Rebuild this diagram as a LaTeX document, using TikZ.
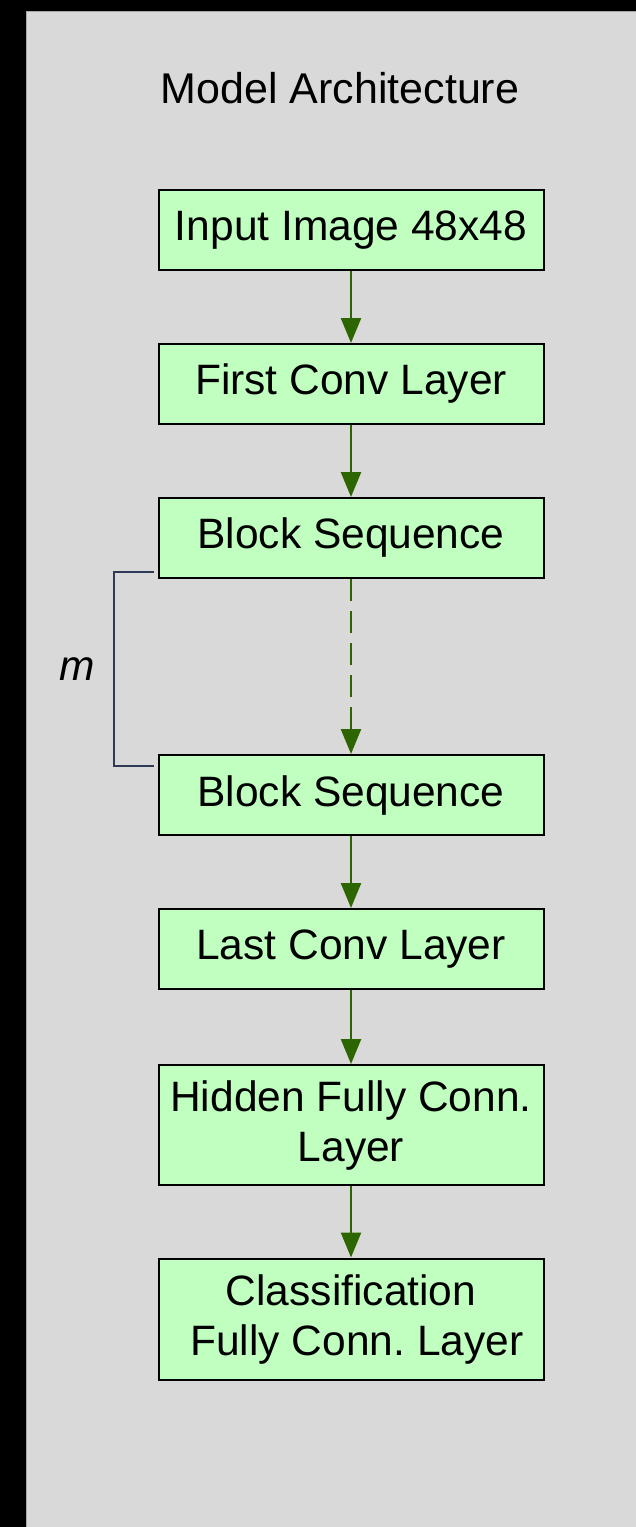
\documentclass[tikz,border=0pt]{standalone}
\usepackage{fontspec}
\setmainfont{Liberation Sans}
\usetikzlibrary{arrows.meta, positioning}
\frenchspacing
\definecolor{panelgray}{HTML}{D9D9D9}
\definecolor{boxgreen}{HTML}{C0FFC0}
\definecolor{arrowgreen}{HTML}{2D6600}
\definecolor{bracketblue}{HTML}{2E3A58}
\tikzstyle{layer} = [rectangle, 
minimum width=385pt, 
minimum height=80pt,
align=center, 
inner sep=0pt,
line width=2pt,
draw=black, 
fill=boxgreen,
font=\fontsize{42.5}{50}\selectfont]
\tikzstyle{arrow} = [-{Triangle[length=25pt, width=20pt]}, line width=2.5pt, arrowgreen]

\begin{document}
\begin{tikzpicture}[x=1pt, y=-1pt]
				
				% Canvas and panel
				\useasboundingbox (0,0) rectangle (636,1527);
				\fill[black] (0,0) rectangle (636,1527);
				\fill[panelgray] (27,12) rectangle (636,1527);
				\draw[gray!70, line width=1pt] (26.5,1527) -- (26.5,11.5) -- (636,11.5);
				
				\node[font=\fontsize{43}{50}\selectfont] (title) at (340,88) {Model Architecture};
				
				\node[layer] (input) at (351,230) {Input Image 48x48};
				\node[layer] (firstconv) at ([yshift=-154pt]input.center) {First Conv Layer};
				\node[layer] (seqA) at ([yshift=-154pt]firstconv.center) {Block Sequence};
				\node[layer] (seqB) at ([yshift=-257pt]seqA.center) {Block Sequence};
				\node[layer] (lastconv) at ([yshift=-154pt]seqB.center) {Last Conv Layer};
				\node[layer, minimum height=120pt] (hidden) at ([yshift=-176pt]lastconv.center) {Hidden Fully Conn.\\ Layer};
				\node[layer, minimum height=121pt] (classif) at ([yshift=-194pt]hidden.center) {Classification\\ ~Fully Conn. Layer};
				
				% Edges
				\draw[arrow] (input) -- (firstconv);
				\draw[arrow] (firstconv) -- (seqA);
				\draw[arrow, dash pattern=on 22pt off 10pt] (seqA) -- (seqB);
				\draw[arrow] (seqB) -- (lastconv);
				\draw[arrow] (lastconv) -- (hidden);
				\draw[arrow] (hidden) -- (classif);
				
				% Repeat bracket
				\coordinate (mtop) at ([xshift=-4pt, yshift=7pt]seqA.south west);
				\coordinate (mbot) at ([xshift=-4pt, yshift=-12pt]seqB.north west);
				\draw[bracketblue, line width=2pt] (mtop) -- ++(-40,0) |- node[pos=0.25, left=14pt, black, font=\fontsize{42.5}{50}\selectfont\itshape] {m} (mbot);
				
			\end{tikzpicture}
\end{document}
